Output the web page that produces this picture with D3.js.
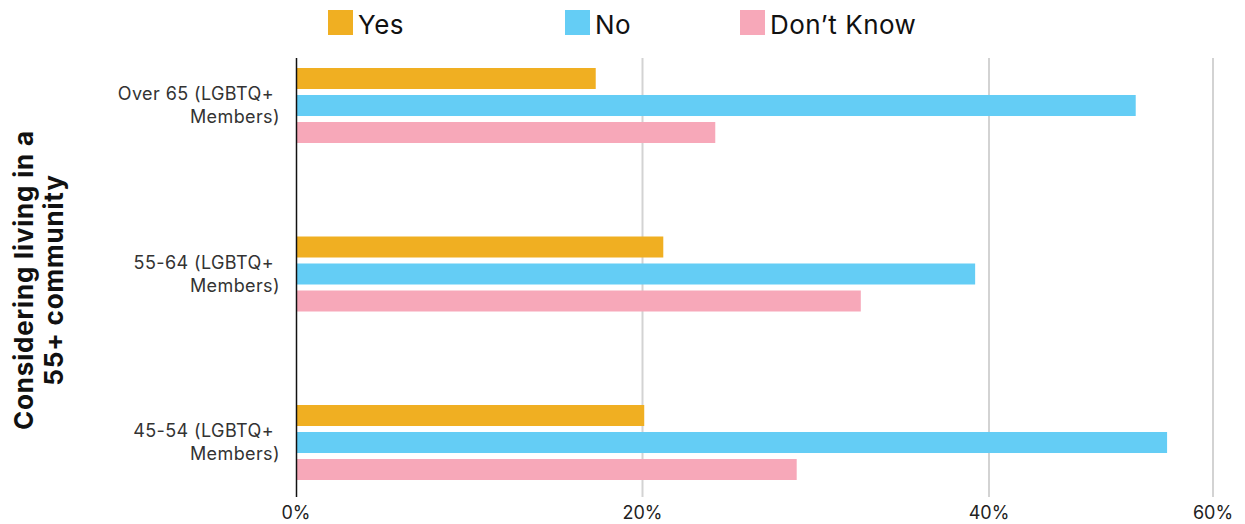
<!DOCTYPE html>
<html><head><meta charset="utf-8">
<script src="https://cdn.jsdelivr.net/npm/d3@7"></script>
<style>body{margin:0;background:#fff}svg{display:block}text{font-family:Inter,"Noto Sans",sans-serif}</style>
</head><body><svg id="c" width="1245" height="524"></svg>
<script>
const categories = ["Over 65 (LGBTQ+|Members)", "55-64 (LGBTQ+|Members)", "45-54 (LGBTQ+|Members)"];
const seriesNames = ["Yes", "No", "Don\u2019t Know"];
const yesValues = [17.3, 21.2, 20.1];
const noValues = [53.1, 39.2, 55.9];
const dkValues = [24.2, 32.6, 28.9];
const tickValues = [0, 20, 40, 60];
const colors = ["#F0AF22", "#64CDF5", "#F7A8B9"];

const svg = d3.select("#c");
const series = [yesValues, noValues, dkValues];
// axis as drawn in the reference (last segment narrower)
const x = d3.scaleLinear().domain(tickValues).range([296, 642.5, 989, 1213]);
const plotTop = 58, plotBottom = 497;

// gridlines
svg.append("g").selectAll("line").data(tickValues.slice(1)).join("line")
  .attr("x1", d => x(d)).attr("x2", d => x(d)).attr("y1", plotTop).attr("y2", plotBottom)
  .attr("stroke", "#d3d3d3").attr("stroke-width", 2);

// bars
const yg = d3.scalePoint().domain(categories).range([68, 405]);
const yi = d3.scaleBand().domain(seriesNames).range([0, 75]).paddingInner(0.222);
categories.forEach((c, ci) => {
  seriesNames.forEach((s, si) => {
    svg.append("rect").attr("x", x(0)).attr("y", yg(c) + yi(s))
      .attr("width", x(series[si][ci]) - x(0)).attr("height", yi.bandwidth())
      .attr("fill", colors[si]);
  });
});

// axis line
svg.append("line").attr("x1", 296.5).attr("x2", 296.5).attr("y1", plotTop).attr("y2", plotBottom)
  .attr("stroke", "#111").attr("stroke-width", 1.5);

// x tick labels
svg.append("g").selectAll("text").data(tickValues).join("text")
  .attr("x", d => x(d)).attr("y", 519).attr("text-anchor", "middle")
  .attr("font-size", 18).attr("fill", "#222").text(d => d + "%");

// category labels
categories.forEach(c => {
  const parts = c.split("|");
  const t = svg.append("text").attr("text-anchor", "end").attr("font-size", 18)
    .attr("letter-spacing", 0.4).attr("fill", "#333");
  t.append("tspan").attr("x", 274).attr("y", yg(c) + 32).text(parts[0]);
  t.append("tspan").attr("x", 280).attr("y", yg(c) + 55).text(parts[1]);
});

// y title
const yt = svg.append("text").attr("transform", "translate(0,280) rotate(-90)")
  .attr("text-anchor", "middle").attr("font-size", 26).attr("font-weight", 700)
  .attr("letter-spacing", 0.8).attr("fill", "#111");
yt.append("tspan").attr("x", 0).attr("y", 33).text("Considering living in a");
yt.append("tspan").attr("x", 0).attr("y", 63).text("55+ community");

// legend
const legX = [328, 565, 740];
seriesNames.forEach((s, i) => {
  svg.append("rect").attr("x", legX[i]).attr("y", 10).attr("width", 25).attr("height", 25).attr("fill", colors[i]);
  svg.append("text").attr("x", legX[i] + 30).attr("y", 34).attr("font-size", 26)
    .attr("letter-spacing", 0.5).attr("fill", "#111").text(s);
});
</script></body></html>
